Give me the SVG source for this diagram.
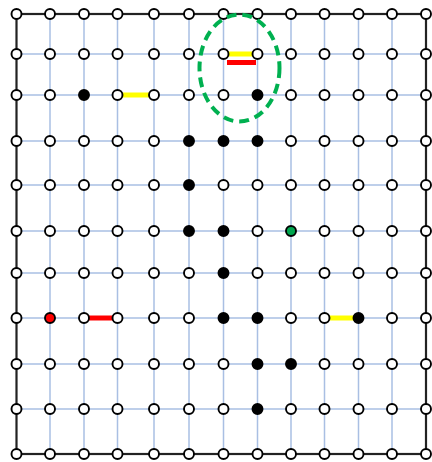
<svg xmlns="http://www.w3.org/2000/svg" width="432" height="462" viewBox="0 0 432 462">
<style>
.grid{stroke:#a9bfe3;stroke-width:1.5;fill:none}
.border{stroke:#222;stroke-width:2.2;fill:none}
.n{fill:#fff;stroke:#000;stroke-width:1.9}
.b{fill:#000;stroke:#000;stroke-width:1.9}
.r{fill:#f00;stroke:#000;stroke-width:1.9}
.g{fill:#00a64f;stroke:#000;stroke-width:1.9}
.ye{stroke:#ffff00;stroke-width:5;fill:none}
.rd{stroke:#ff0000;stroke-width:5;fill:none}
.el{stroke:#00b050;stroke-width:4;fill:none;stroke-dasharray:10 6}
</style>
<rect width="432" height="462" fill="#fff"/>
<g id="connectors">
<g id="grid-v">
<line class="grid" x1="50" y1="14" x2="50" y2="454"/>
<line class="grid" x1="84" y1="14" x2="84" y2="454"/>
<line class="grid" x1="117.5" y1="14" x2="117.5" y2="454"/>
<line class="grid" x1="154" y1="14" x2="154" y2="454"/>
<line class="grid" x1="189" y1="14" x2="189" y2="454"/>
<line class="grid" x1="223.5" y1="14" x2="223.5" y2="454"/>
<line class="grid" x1="257.5" y1="14" x2="257.5" y2="454"/>
<line class="grid" x1="291" y1="14" x2="291" y2="454"/>
<line class="grid" x1="324.5" y1="14" x2="324.5" y2="454"/>
<line class="grid" x1="358.5" y1="14" x2="358.5" y2="454"/>
<line class="grid" x1="392" y1="14" x2="392" y2="454"/>
</g>
<g id="grid-h">
<line class="grid" x1="16.5" y1="54" x2="426" y2="54"/>
<line class="grid" x1="16.5" y1="95" x2="426" y2="95"/>
<line class="grid" x1="16.5" y1="141" x2="426" y2="141"/>
<line class="grid" x1="16.5" y1="185" x2="426" y2="185"/>
<line class="grid" x1="16.5" y1="231" x2="426" y2="231"/>
<line class="grid" x1="16.5" y1="273" x2="426" y2="273"/>
<line class="grid" x1="16.5" y1="318" x2="426" y2="318"/>
<line class="grid" x1="16.5" y1="364" x2="426" y2="364"/>
<line class="grid" x1="16.5" y1="409" x2="426" y2="409"/>
</g>
<rect class="border" x="16.5" y="14" width="409.5" height="440"/>
<line class="ye" x1="228" y1="54" x2="253" y2="54"/>
<line class="rd" x1="227" y1="62.5" x2="256" y2="62.5"/>
<line class="ye" x1="122" y1="95" x2="150" y2="95"/>
<line class="rd" x1="88" y1="318" x2="113" y2="318"/>
<line class="ye" x1="329" y1="318" x2="354" y2="318"/>
</g>
<g id="nodes">
<g id="n0-0"><circle class="n" cx="16.5" cy="14" r="5"/></g>
<g id="n0-1"><circle class="n" cx="50" cy="14" r="5"/></g>
<g id="n0-2"><circle class="n" cx="84" cy="14" r="5"/></g>
<g id="n0-3"><circle class="n" cx="117.5" cy="14" r="5"/></g>
<g id="n0-4"><circle class="n" cx="154" cy="14" r="5"/></g>
<g id="n0-5"><circle class="n" cx="189" cy="14" r="5"/></g>
<g id="n0-6"><circle class="n" cx="223.5" cy="14" r="5"/></g>
<g id="n0-7"><circle class="n" cx="257.5" cy="14" r="5"/></g>
<g id="n0-8"><circle class="n" cx="291" cy="14" r="5"/></g>
<g id="n0-9"><circle class="n" cx="324.5" cy="14" r="5"/></g>
<g id="n0-10"><circle class="n" cx="358.5" cy="14" r="5"/></g>
<g id="n0-11"><circle class="n" cx="392" cy="14" r="5"/></g>
<g id="n0-12"><circle class="n" cx="426" cy="14" r="5"/></g>
<g id="n1-0"><circle class="n" cx="16.5" cy="54" r="5"/></g>
<g id="n1-1"><circle class="n" cx="50" cy="54" r="5"/></g>
<g id="n1-2"><circle class="n" cx="84" cy="54" r="5"/></g>
<g id="n1-3"><circle class="n" cx="117.5" cy="54" r="5"/></g>
<g id="n1-4"><circle class="n" cx="154" cy="54" r="5"/></g>
<g id="n1-5"><circle class="n" cx="189" cy="54" r="5"/></g>
<g id="n1-6"><circle class="n" cx="223.5" cy="54" r="5"/></g>
<g id="n1-7"><circle class="n" cx="257.5" cy="54" r="5"/></g>
<g id="n1-8"><circle class="n" cx="291" cy="54" r="5"/></g>
<g id="n1-9"><circle class="n" cx="324.5" cy="54" r="5"/></g>
<g id="n1-10"><circle class="n" cx="358.5" cy="54" r="5"/></g>
<g id="n1-11"><circle class="n" cx="392" cy="54" r="5"/></g>
<g id="n1-12"><circle class="n" cx="426" cy="54" r="5"/></g>
<g id="n2-0"><circle class="n" cx="16.5" cy="95" r="5"/></g>
<g id="n2-1"><circle class="n" cx="50" cy="95" r="5"/></g>
<g id="n2-2"><circle class="b" cx="84" cy="95" r="5"/></g>
<g id="n2-3"><circle class="n" cx="117.5" cy="95" r="5"/></g>
<g id="n2-4"><circle class="n" cx="154" cy="95" r="5"/></g>
<g id="n2-5"><circle class="n" cx="189" cy="95" r="5"/></g>
<g id="n2-6"><circle class="n" cx="223.5" cy="95" r="5"/></g>
<g id="n2-7"><circle class="b" cx="257.5" cy="95" r="5"/></g>
<g id="n2-8"><circle class="n" cx="291" cy="95" r="5"/></g>
<g id="n2-9"><circle class="n" cx="324.5" cy="95" r="5"/></g>
<g id="n2-10"><circle class="n" cx="358.5" cy="95" r="5"/></g>
<g id="n2-11"><circle class="n" cx="392" cy="95" r="5"/></g>
<g id="n2-12"><circle class="n" cx="426" cy="95" r="5"/></g>
<g id="n3-0"><circle class="n" cx="16.5" cy="141" r="5"/></g>
<g id="n3-1"><circle class="n" cx="50" cy="141" r="5"/></g>
<g id="n3-2"><circle class="n" cx="84" cy="141" r="5"/></g>
<g id="n3-3"><circle class="n" cx="117.5" cy="141" r="5"/></g>
<g id="n3-4"><circle class="n" cx="154" cy="141" r="5"/></g>
<g id="n3-5"><circle class="b" cx="189" cy="141" r="5"/></g>
<g id="n3-6"><circle class="b" cx="223.5" cy="141" r="5"/></g>
<g id="n3-7"><circle class="b" cx="257.5" cy="141" r="5"/></g>
<g id="n3-8"><circle class="n" cx="291" cy="141" r="5"/></g>
<g id="n3-9"><circle class="n" cx="324.5" cy="141" r="5"/></g>
<g id="n3-10"><circle class="n" cx="358.5" cy="141" r="5"/></g>
<g id="n3-11"><circle class="n" cx="392" cy="141" r="5"/></g>
<g id="n3-12"><circle class="n" cx="426" cy="141" r="5"/></g>
<g id="n4-0"><circle class="n" cx="16.5" cy="185" r="5"/></g>
<g id="n4-1"><circle class="n" cx="50" cy="185" r="5"/></g>
<g id="n4-2"><circle class="n" cx="84" cy="185" r="5"/></g>
<g id="n4-3"><circle class="n" cx="117.5" cy="185" r="5"/></g>
<g id="n4-4"><circle class="n" cx="154" cy="185" r="5"/></g>
<g id="n4-5"><circle class="b" cx="189" cy="185" r="5"/></g>
<g id="n4-6"><circle class="n" cx="223.5" cy="185" r="5"/></g>
<g id="n4-7"><circle class="n" cx="257.5" cy="185" r="5"/></g>
<g id="n4-8"><circle class="n" cx="291" cy="185" r="5"/></g>
<g id="n4-9"><circle class="n" cx="324.5" cy="185" r="5"/></g>
<g id="n4-10"><circle class="n" cx="358.5" cy="185" r="5"/></g>
<g id="n4-11"><circle class="n" cx="392" cy="185" r="5"/></g>
<g id="n4-12"><circle class="n" cx="426" cy="185" r="5"/></g>
<g id="n5-0"><circle class="n" cx="16.5" cy="231" r="5"/></g>
<g id="n5-1"><circle class="n" cx="50" cy="231" r="5"/></g>
<g id="n5-2"><circle class="n" cx="84" cy="231" r="5"/></g>
<g id="n5-3"><circle class="n" cx="117.5" cy="231" r="5"/></g>
<g id="n5-4"><circle class="n" cx="154" cy="231" r="5"/></g>
<g id="n5-5"><circle class="b" cx="189" cy="231" r="5"/></g>
<g id="n5-6"><circle class="b" cx="223.5" cy="231" r="5"/></g>
<g id="n5-7"><circle class="n" cx="257.5" cy="231" r="5"/></g>
<g id="n5-8"><circle class="g" cx="291" cy="231" r="5"/></g>
<g id="n5-9"><circle class="n" cx="324.5" cy="231" r="5"/></g>
<g id="n5-10"><circle class="n" cx="358.5" cy="231" r="5"/></g>
<g id="n5-11"><circle class="n" cx="392" cy="231" r="5"/></g>
<g id="n5-12"><circle class="n" cx="426" cy="231" r="5"/></g>
<g id="n6-0"><circle class="n" cx="16.5" cy="273" r="5"/></g>
<g id="n6-1"><circle class="n" cx="50" cy="273" r="5"/></g>
<g id="n6-2"><circle class="n" cx="84" cy="273" r="5"/></g>
<g id="n6-3"><circle class="n" cx="117.5" cy="273" r="5"/></g>
<g id="n6-4"><circle class="n" cx="154" cy="273" r="5"/></g>
<g id="n6-5"><circle class="n" cx="189" cy="273" r="5"/></g>
<g id="n6-6"><circle class="b" cx="223.5" cy="273" r="5"/></g>
<g id="n6-7"><circle class="n" cx="257.5" cy="273" r="5"/></g>
<g id="n6-8"><circle class="n" cx="291" cy="273" r="5"/></g>
<g id="n6-9"><circle class="n" cx="324.5" cy="273" r="5"/></g>
<g id="n6-10"><circle class="n" cx="358.5" cy="273" r="5"/></g>
<g id="n6-11"><circle class="n" cx="392" cy="273" r="5"/></g>
<g id="n6-12"><circle class="n" cx="426" cy="273" r="5"/></g>
<g id="n7-0"><circle class="n" cx="16.5" cy="318" r="5"/></g>
<g id="n7-1"><circle class="r" cx="50" cy="318" r="5"/></g>
<g id="n7-2"><circle class="n" cx="84" cy="318" r="5"/></g>
<g id="n7-3"><circle class="n" cx="117.5" cy="318" r="5"/></g>
<g id="n7-4"><circle class="n" cx="154" cy="318" r="5"/></g>
<g id="n7-5"><circle class="n" cx="189" cy="318" r="5"/></g>
<g id="n7-6"><circle class="b" cx="223.5" cy="318" r="5"/></g>
<g id="n7-7"><circle class="b" cx="257.5" cy="318" r="5"/></g>
<g id="n7-8"><circle class="n" cx="291" cy="318" r="5"/></g>
<g id="n7-9"><circle class="n" cx="324.5" cy="318" r="5"/></g>
<g id="n7-10"><circle class="b" cx="358.5" cy="318" r="5"/></g>
<g id="n7-11"><circle class="n" cx="392" cy="318" r="5"/></g>
<g id="n7-12"><circle class="n" cx="426" cy="318" r="5"/></g>
<g id="n8-0"><circle class="n" cx="16.5" cy="364" r="5"/></g>
<g id="n8-1"><circle class="n" cx="50" cy="364" r="5"/></g>
<g id="n8-2"><circle class="n" cx="84" cy="364" r="5"/></g>
<g id="n8-3"><circle class="n" cx="117.5" cy="364" r="5"/></g>
<g id="n8-4"><circle class="n" cx="154" cy="364" r="5"/></g>
<g id="n8-5"><circle class="n" cx="189" cy="364" r="5"/></g>
<g id="n8-6"><circle class="n" cx="223.5" cy="364" r="5"/></g>
<g id="n8-7"><circle class="b" cx="257.5" cy="364" r="5"/></g>
<g id="n8-8"><circle class="b" cx="291" cy="364" r="5"/></g>
<g id="n8-9"><circle class="n" cx="324.5" cy="364" r="5"/></g>
<g id="n8-10"><circle class="n" cx="358.5" cy="364" r="5"/></g>
<g id="n8-11"><circle class="n" cx="392" cy="364" r="5"/></g>
<g id="n8-12"><circle class="n" cx="426" cy="364" r="5"/></g>
<g id="n9-0"><circle class="n" cx="16.5" cy="409" r="5"/></g>
<g id="n9-1"><circle class="n" cx="50" cy="409" r="5"/></g>
<g id="n9-2"><circle class="n" cx="84" cy="409" r="5"/></g>
<g id="n9-3"><circle class="n" cx="117.5" cy="409" r="5"/></g>
<g id="n9-4"><circle class="n" cx="154" cy="409" r="5"/></g>
<g id="n9-5"><circle class="n" cx="189" cy="409" r="5"/></g>
<g id="n9-6"><circle class="n" cx="223.5" cy="409" r="5"/></g>
<g id="n9-7"><circle class="b" cx="257.5" cy="409" r="5"/></g>
<g id="n9-8"><circle class="n" cx="291" cy="409" r="5"/></g>
<g id="n9-9"><circle class="n" cx="324.5" cy="409" r="5"/></g>
<g id="n9-10"><circle class="n" cx="358.5" cy="409" r="5"/></g>
<g id="n9-11"><circle class="n" cx="392" cy="409" r="5"/></g>
<g id="n9-12"><circle class="n" cx="426" cy="409" r="5"/></g>
<g id="n10-0"><circle class="n" cx="16.5" cy="454" r="5"/></g>
<g id="n10-1"><circle class="n" cx="50" cy="454" r="5"/></g>
<g id="n10-2"><circle class="n" cx="84" cy="454" r="5"/></g>
<g id="n10-3"><circle class="n" cx="117.5" cy="454" r="5"/></g>
<g id="n10-4"><circle class="n" cx="154" cy="454" r="5"/></g>
<g id="n10-5"><circle class="n" cx="189" cy="454" r="5"/></g>
<g id="n10-6"><circle class="n" cx="223.5" cy="454" r="5"/></g>
<g id="n10-7"><circle class="n" cx="257.5" cy="454" r="5"/></g>
<g id="n10-8"><circle class="n" cx="291" cy="454" r="5"/></g>
<g id="n10-9"><circle class="n" cx="324.5" cy="454" r="5"/></g>
<g id="n10-10"><circle class="n" cx="358.5" cy="454" r="5"/></g>
<g id="n10-11"><circle class="n" cx="392" cy="454" r="5"/></g>
<g id="n10-12"><circle class="n" cx="426" cy="454" r="5"/></g>
</g>
<g id="highlight">
<ellipse class="el" cx="239.5" cy="68" rx="40" ry="53.5"/>
</g>
</svg>
